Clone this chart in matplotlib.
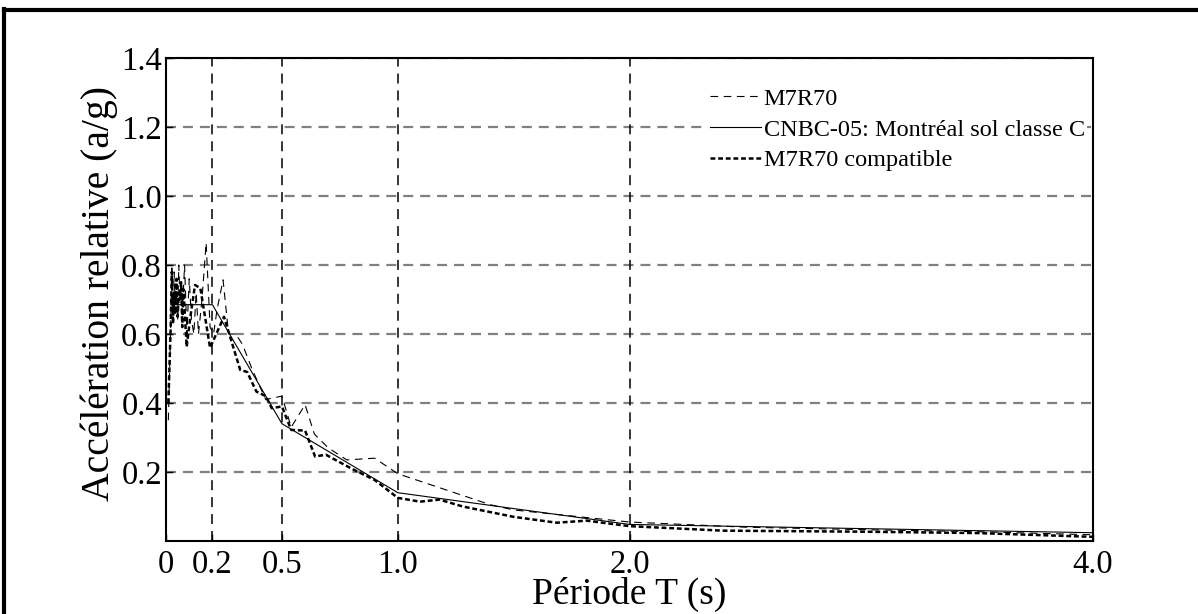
import numpy as np
import matplotlib
matplotlib.use('Agg')
import matplotlib.pyplot as plt
from matplotlib.lines import Line2D

plt.rcParams['font.family'] = ['Liberation Serif', 'DejaVu Serif']
plt.rcParams['lines.scale_dashes'] = False

# M7R70 (accelerogramme brut)
t_brut = [0.01, 0.02, 0.025, 0.03, 0.035, 0.04, 0.045, 0.05, 0.055, 0.06, 0.065, 0.07,
          0.08, 0.09, 0.10, 0.11, 0.12, 0.13, 0.14, 0.155, 0.173, 0.19, 0.205, 0.22,
          0.246, 0.27, 0.30, 0.33, 0.37, 0.43, 0.50, 0.54, 0.60, 0.64, 0.70, 0.78,
          0.90, 1.0, 1.2, 1.4, 1.5, 2.0, 2.5, 3.0, 3.5, 4.0]
sa_brut = [0.35, 0.62, 0.80, 0.65, 0.78, 0.66, 0.74, 0.64, 0.80, 0.70, 0.75, 0.66,
           0.80, 0.60, 0.76, 0.64, 0.60, 0.72, 0.60, 0.70, 0.864, 0.62, 0.60, 0.67,
           0.757, 0.60, 0.60, 0.57, 0.50, 0.41, 0.42, 0.33, 0.395, 0.31, 0.27, 0.235,
           0.24, 0.195, 0.15, 0.105, 0.09, 0.055, 0.04, 0.033, 0.027, 0.018]

# CNBC-05 Montreal, sol classe C
t_cnbc = [0.02, 0.2, 0.5, 1.0, 2.0, 4.0]
sa_cnbc = [0.685, 0.685, 0.34, 0.14, 0.048, 0.024]

# M7R70 compatible
t_comp = [0.01, 0.02, 0.025, 0.03, 0.035, 0.04, 0.045, 0.05, 0.055, 0.06, 0.065, 0.07,
          0.075, 0.089, 0.105, 0.125, 0.148, 0.19, 0.25, 0.32, 0.35, 0.39, 0.43, 0.456,
          0.50, 0.54, 0.60, 0.643, 0.69, 0.80, 0.90, 1.0, 1.096, 1.18, 1.28, 1.5,
          1.685, 1.815, 2.0, 2.4, 3.0, 3.5, 4.0]
sa_comp = [0.40, 0.62, 0.78, 0.63, 0.72, 0.66, 0.76, 0.65, 0.72, 0.70, 0.75, 0.62,
           0.73, 0.563, 0.65, 0.742, 0.733, 0.56, 0.65, 0.496, 0.49, 0.433, 0.42, 0.385,
           0.39, 0.322, 0.32, 0.245, 0.25, 0.21, 0.177, 0.125, 0.114, 0.12, 0.10, 0.07,
           0.053, 0.059, 0.043, 0.03, 0.027, 0.023, 0.012]

x_ticks = [0, 0.2, 0.5, 1.0, 2.0, 4.0]
x_labels = ['0', '0.2', '0.5', '1.0', '2.0', '4.0']
y_ticks = [0.2, 0.4, 0.6, 0.8, 1.0, 1.2, 1.4]


def main():
    fig = plt.figure(figsize=(11.98, 6.14), dpi=100)
    ax = fig.add_axes([0.1386, 0.1189, 0.7738, 0.7866])

    # grille
    for yv in y_ticks:
        ax.axhline(yv, color='#808080', lw=1.6, ls=(0, (7.2, 5.0)), zorder=1)
    for xv in x_ticks[1:-1]:
        ax.axvline(xv, color='black', lw=1.1, ls=(0, (7.2, 5.0)), zorder=1)

    ax.plot(t_brut, sa_brut, color='black', lw=0.8, ls=(0, (5.5, 4.0)), label='M7R70', zorder=3)
    ax.plot(t_cnbc, sa_cnbc, color='black', lw=0.8, ls='-',
            label='CNBC-05: Montréal sol classe C', zorder=3)
    ax.plot(t_comp, sa_comp, color='black', lw=1.8, ls=(0, (3.5, 2.0)),
            label='M7R70 compatible', zorder=4)

    ax.set_xlim(0, 4.0)
    ax.set_ylim(0, 1.4)
    ax.set_xticks(x_ticks)
    ax.set_xticklabels(x_labels)
    ax.set_yticks(y_ticks)
    ax.set_yticklabels(['%.1f' % v for v in y_ticks])
    ax.tick_params(direction='in', length=5, width=1, labelsize=23.5)
    ax.tick_params(axis='x', pad=6)
    ax.tick_params(axis='y', pad=3)
    for sp in ax.spines.values():
        sp.set_linewidth(1.5)

    ax.set_xlabel('Période T (s)', fontsize=27, labelpad=-2)
    ax.set_ylabel('Accélération relative (a/g)', fontsize=28.5, labelpad=2, y=0.512)

    leg = ax.legend(loc='upper right', bbox_to_anchor=(0.999, 0.9535), frameon=True,
                    fontsize=17.5, handlelength=2.1, handletextpad=0.1, labelspacing=0.36,
                    borderaxespad=0.2, borderpad=0.1, fancybox=False, framealpha=1.0)
    leg.get_frame().set_facecolor('white')
    leg.get_frame().set_edgecolor('none')
    leg.set_zorder(5)

    # cadre de la figure
    fig.add_artist(Line2D([0.003, 1.0], [0.984, 0.984], color='black', lw=3,
                          transform=fig.transFigure))
    fig.add_artist(Line2D([0.0037, 0.0037], [0.0, 0.986], color='black', lw=3,
                          transform=fig.transFigure))

    fig.savefig('out.png', dpi=100)


if __name__ == "__main__":
    main()
